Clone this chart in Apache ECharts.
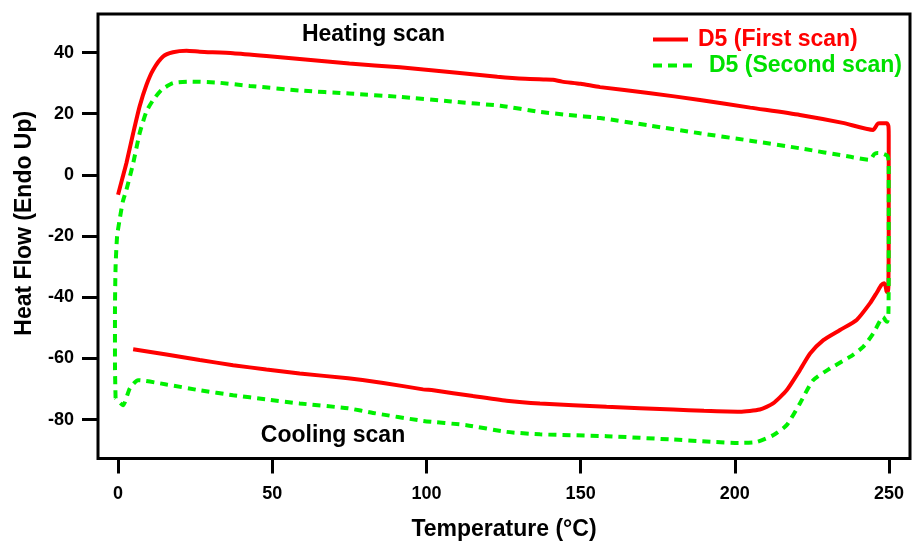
<!DOCTYPE html>
<html>
<head>
<meta charset="utf-8">
<script src="https://cdn.jsdelivr.net/npm/echarts@6/dist/echarts.min.js"></script>
<style>
  html, body { margin: 0; padding: 0; background: #fff; }
  #chart { width: 913px; height: 547px; }
</style>
</head>
<body>
<div id="chart"></div>
<script>
// DSC heat-flow loops: [temperature °C, heat flow], in scan order (heat to 250 °C, then cool)
const firstScan = [
  [0, -6.5], [1.3, -1.5], [2.7, 3.8], [4.9, 13.6], [7.0, 22.4], [9.2, 29.4], [11.4, 34.4],
  [14.6, 38.7], [17.8, 40.1], [22.2, 40.6], [26.5, 40.3], [37.3, 39.8], [48.1, 38.9],
  [58.9, 37.9], [75, 36.4], [91.4, 35.2], [110, 33.4], [123, 32.1], [132, 31.4], [138, 31.2],
  [141, 31.1], [144, 30.5], [150, 29.8], [156.3, 28.7], [172, 26.8], [188.7, 24.5],
  [205, 22.0], [221.1, 19.6], [235, 17.0], [244.9, 14.7], [245.6, 15.6], [246.2, 16.6],
  [247, 16.9], [249.3, 16.9], [249.8, 16.0], [249.9, 13], [249.9, 0], [249.9, -20],
  [249.8, -36.5], [249.6, -38.3], [249.2, -38.0], [248.9, -36.5], [248.4, -35.4],
  [247.5, -36.0], [246, -38.5], [243.8, -42.0], [239.5, -47.4], [234.1, -50.7],
  [228.7, -54.0], [224.4, -58.4], [221.1, -63.8], [216.8, -70.4], [212.4, -74.7],
  [208.1, -76.7], [201.6, -77.4], [190, -77.1], [180, -76.7], [158.4, -75.8],
  [136.8, -74.7], [126, -73.8], [115.1, -72.3], [102.2, -70.4], [98.9, -70.1], [86, -68.0],
  [74.6, -66.5], [58.9, -64.9], [48.1, -63.6], [37.3, -62.2], [26.5, -60.5], [15.7, -58.7],
  [4.9, -57.0]
];

const secondScan = [
  [-0.8, -73], [-1.0, -62], [-1.0, -45], [-0.8, -30], [-0.3, -20], [0.5, -14.7], [1.6, -8.5],
  [2.7, -4.9], [4.9, 3.8], [7.0, 13.6], [9.2, 20.7], [11.4, 24.5], [14.1, 27.8], [17.8, 30.0],
  [23.3, 30.5], [31.9, 30.2], [42.7, 29.1], [58.9, 27.6], [75, 26.6], [91.4, 25.5],
  [108, 24.0], [124, 22.6], [136.8, 20.6], [146, 19.6], [156.3, 18.6], [172, 16.2],
  [188.7, 13.6], [205, 11.2], [221.1, 8.7], [237, 6.0], [243.8, 4.9], [245.2, 6.8],
  [246.2, 7.2], [247.6, 7.1], [249.5, 6.2], [249.9, 4], [249.9, -10], [249.9, -30],
  [249.8, -45.3], [249.4, -48.0], [248.8, -47.5], [248.1, -46.4], [244.9, -51.8],
  [241.6, -56.2], [237.3, -59.5], [230.8, -63.3], [225.4, -67.1], [221.1, -74.7],
  [216.8, -81.8], [212.4, -85.1], [207, -87.3], [201.6, -87.6], [180, -86.5], [158.4, -85.4],
  [136.8, -84.8], [126, -84.0], [113, -81.8], [98.9, -80.4], [82.7, -77.8], [74.6, -76.3],
  [58.9, -74.7], [48.1, -73.4], [37.3, -72.0], [26.5, -70.4], [15.7, -68.5], [6.5, -67.1],
  [3.8, -69.8], [1.6, -75.3], [-0.8, -73]
];

const seriesNames = ['D5 (First scan)', 'D5 (Second scan)'];
const xTicks = [0, 50, 100, 150, 200, 250];
const yTicks = [-80, -60, -40, -20, 0, 20, 40];

const RED = '#ff0000';
const GREEN = '#00f000';
const TEXT_FONT = 'Liberation Sans, Arial, sans-serif';

const chart = echarts.init(document.getElementById('chart'), null, { renderer: 'canvas' });

const tickLabel = {
  fontFamily: TEXT_FONT, fontWeight: 'bold', fontSize: 18, color: '#000'
};
const titleText = {
  fontFamily: TEXT_FONT, fontWeight: 'bold', fontSize: 23, color: '#000'
};

chart.setOption({
  animation: false,
  backgroundColor: '#fff',
  grid: {
    left: 98, right: 3, top: 14, bottom: 88.5,
    show: true, borderColor: '#000', borderWidth: 3, backgroundColor: 'transparent'
  },
  xAxis: {
    type: 'value', min: -6.5, max: 256.8,
    axisLine: { show: false, onZero: false },
    splitLine: { show: false },
    axisTick: { show: true, length: 15, customValues: xTicks, lineStyle: { width: 3, color: '#000' } },
    axisLabel: Object.assign({ customValues: xTicks, margin: 27 }, tickLabel),
    name: 'Temperature (°C)', nameLocation: 'middle', nameGap: 60,
    nameTextStyle: titleText
  },
  yAxis: {
    type: 'value', min: -92.7, max: 52.6,
    axisLine: { show: false, onZero: false },
    splitLine: { show: false },
    axisTick: { show: true, length: 16, customValues: yTicks, lineStyle: { width: 3, color: '#000' } },
    axisLabel: Object.assign({ customValues: yTicks, margin: 24 }, tickLabel),
    name: 'Heat Flow (Endo Up)', nameLocation: 'middle', nameGap: 62,
    nameTextStyle: Object.assign({ padding: [0, 0, 0, 26] }, titleText)
  },
  legend: [
    {
      data: [seriesNames[0]], left: 651, top: 28, padding: 0,
      itemWidth: 35, itemHeight: 14,
      itemStyle: { opacity: 0 },
      lineStyle: { width: 4, color: RED },
      textStyle: { color: RED, fontFamily: TEXT_FONT, fontWeight: 'bold', fontSize: 23, padding: [0, 0, 0, 5] }
    },
    {
      data: [seriesNames[1]], left: 651, top: 54, padding: 0,
      itemWidth: 39, itemHeight: 14,
      itemStyle: { opacity: 0 },
      lineStyle: { width: 4, color: GREEN, type: [9, 6] },
      textStyle: { color: '#00e000', fontFamily: TEXT_FONT, fontWeight: 'bold', fontSize: 23, padding: [0, 0, 0, 12] }
    }
  ],
  graphic: [
    { type: 'text', x: 373.5, y: 35, style: { text: 'Heating scan', align: 'center', verticalAlign: 'middle', font: 'bold 23px ' + TEXT_FONT, fill: '#000' } },
    { type: 'text', x: 333, y: 436, style: { text: 'Cooling scan', align: 'center', verticalAlign: 'middle', font: 'bold 23px ' + TEXT_FONT, fill: '#000' } }
  ],
  series: [
    {
      name: seriesNames[0], type: 'line', data: firstScan,
      showSymbol: false, symbol: 'none', smooth: 0.2,
      lineStyle: { color: RED, width: 4 }, itemStyle: { color: RED }
    },
    {
      name: seriesNames[1], type: 'line', data: secondScan,
      showSymbol: false, symbol: 'none', smooth: 0.2,
      lineStyle: { color: GREEN, width: 4, type: [8, 6] }, itemStyle: { color: GREEN }
    }
  ]
});
</script>
</body>
</html>
